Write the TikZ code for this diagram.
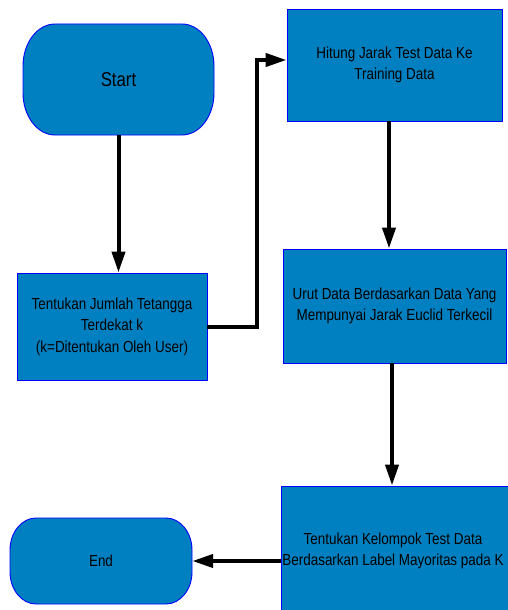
\documentclass[tikz,border=0pt]{standalone}
\usepackage{fontspec}
\setmainfont[FakeStretch=0.84]{Liberation Sans}
\usetikzlibrary{arrows.meta,calc}
\definecolor{boxfill}{RGB}{0,128,192}
\newcommand\termshape[6]{%
  \path[termstyle] ({#1+#5},#2) -- ({#3-#5},#2)
    .. controls ({#3-0.45*#5},#2) and (#3,{#2+0.45*#6}) .. (#3,{#2+#6})
    -- (#3,{#4-#6})
    .. controls (#3,{#4-0.45*#6}) and ({#3-0.45*#5},#4) .. ({#3-#5},#4)
    -- ({#1+#5},#4)
    .. controls ({#1+0.45*#5},#4) and (#1,{#4-0.45*#6}) .. (#1,{#4-#6})
    -- (#1,{#2+#6})
    .. controls (#1,{#2+0.45*#6}) and ({#1+0.45*#5},#2) .. ({#1+#5},#2) -- cycle;}
\tikzset{
  termstyle/.style={draw=blue, fill=boxfill, line width=0.9pt},
  termnode/.style={draw=none, inner sep=0pt, align=center},
  procbox/.style={draw=blue, fill=boxfill, line width=0.9pt, align=center, inner sep=0pt,
    font=\fontsize{16}{21.5}\selectfont},
  flow/.style={line width=4pt, -{Triangle[length=21pt,width=13pt]}},
}
\begin{document}
\begin{tikzpicture}[x=1pt,y=-1pt]
\useasboundingbox (0,0) rectangle (508,610);
\clip (0,0) rectangle (508,610);
% terminals
\termshape{23}{24}{214}{135}{32}{42}
\node[termnode, minimum width=191, minimum height=111, font=\fontsize{20}{24}\selectfont] (start) at (118.5,79.5) {Start};
\termshape{10}{518}{192}{604}{26}{32}
\node[termnode, minimum width=182, minimum height=86, font=\fontsize{16}{20}\selectfont] (end) at (101,561) {End};
% process boxes
\node[procbox, minimum width=190, minimum height=107] (box1) at (112,326.5)
  {Tentukan Jumlah Tetangga\\Terdekat k\\(k=Ditentukan Oleh User)};
\node[procbox, minimum width=215, minimum height=112] (box2) at (394.5,65)
  {Hitung Jarak Test Data Ke\\Training Data};
\node[procbox, minimum width=223, minimum height=114] (box3) at (394.5,306)
  {Urut Data Berdasarkan Data Yang\\Mempunyai Jarak Euclid Terkecil};
\node[procbox, minimum width=231, minimum height=130] (box4) at (396.5,551)
  {Tentukan Kelompok Test Data\hspace*{7pt}\\Berdasarkan Label Mayoritas pada K\hspace*{7pt}};
% connectors
\draw[flow] (start.south) -- (start.south |- box1.north);
\draw[flow] (box1.east) -- ++(50,0) |- ([yshift=5pt]box2.west);
\draw[flow] ([xshift=-5.5pt]box2.south) -- ([xshift=-5.5pt]box2.south |- box3.north);
\draw[flow] ([xshift=-2.5pt]box3.south) -- ([xshift=-2.5pt]box3.south |- box4.north);
\draw[flow] (box4.west |- end.east) -- (end.east);
\end{tikzpicture}
\end{document}
